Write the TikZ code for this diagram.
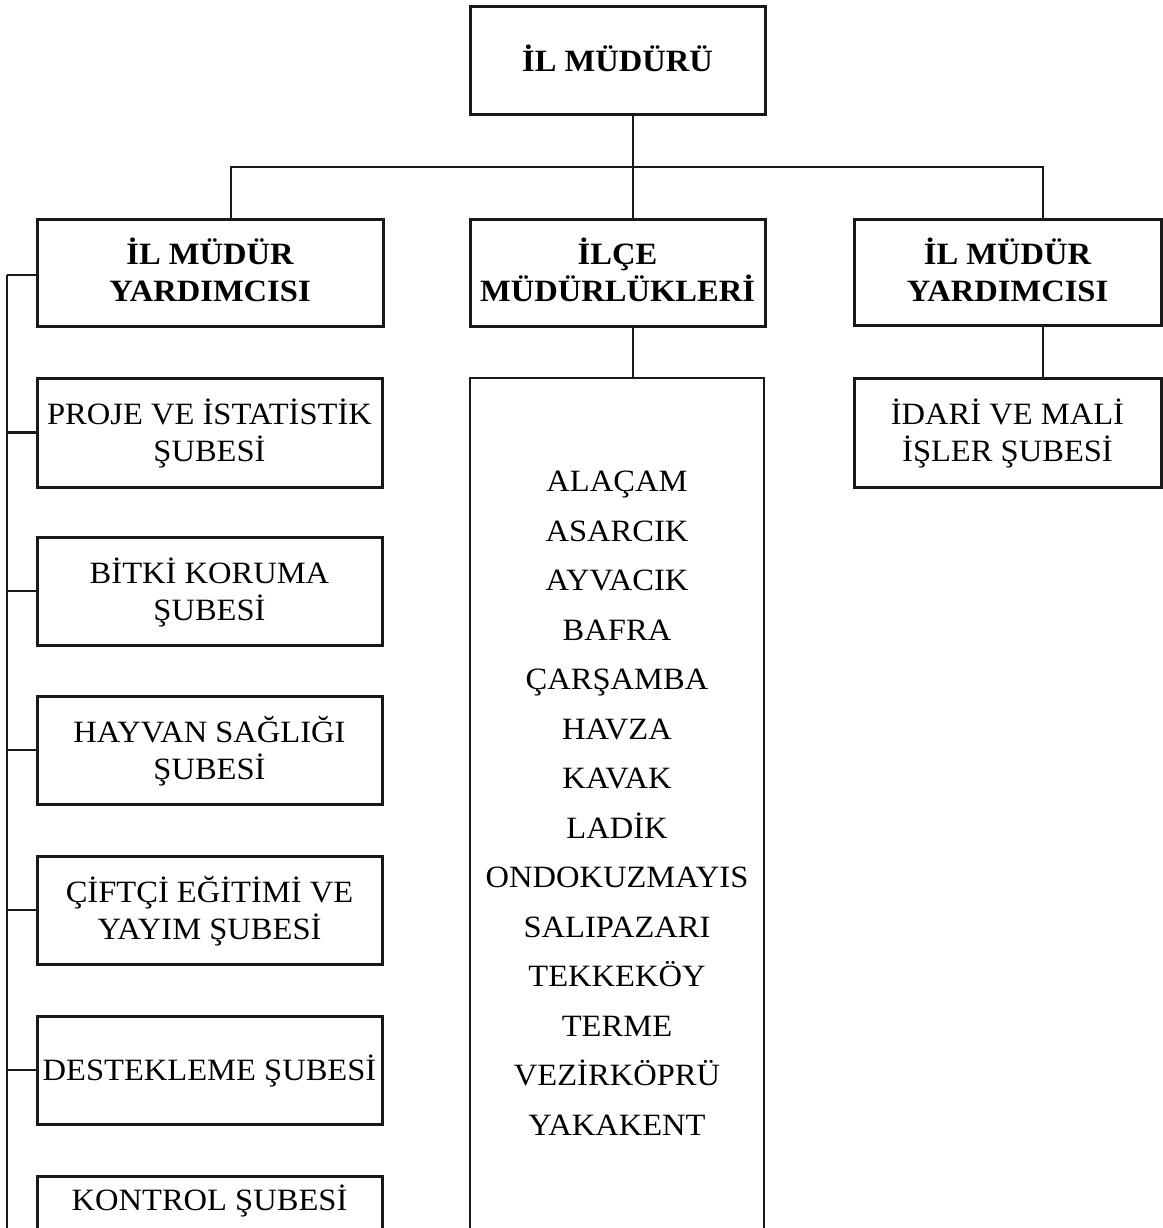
\documentclass[tikz,border=0pt]{standalone}
\usepackage{fontspec}
\setmainfont{Liberation Serif}[FakeStretch=1.05]
\begin{document}
\begin{tikzpicture}[x=1pt,y=-1pt,
  box/.style={draw=black!90,line width=3pt,align=center,inner sep=0pt,
    text height=21pt,text depth=0pt,
    font=\fontsize{31}{37}\selectfont},
  two/.style={text height=58pt},
  bbox/.style={box,font=\fontsize{31}{37}\selectfont\bfseries},
  lbox/.style={draw=black!90,line width=2.6pt},
  conn/.style={draw=black!90,line width=2.4pt},
  item/.style={inner sep=0pt,anchor=base,font=\fontsize{31}{37}\selectfont}]
\useasboundingbox (0,0) rectangle (1162,1228);
% box from (x1,y1) to (x2,y2)
\newcommand{\boxat}[6]{\node[#1,minimum width=#4-#2,minimum height=#5-#3] (#6) at ({(#2+#4)/2},{(#3+#5)/2})}
\boxat{bbox}{470}{7}{765}{115}{mud} {İL MÜDÜRÜ};
\boxat{bbox,two}{37}{219}{383}{326}{yl} {İL MÜDÜR\\YARDIMCISI};
\boxat{bbox,two}{470}{219}{765}{326}{ilce} {İLÇE\\MÜDÜRLÜKLERİ};
\boxat{bbox,two}{854}{219}{1161}{325}{yr} {İL MÜDÜR\\YARDIMCISI};
\boxat{box,two}{854}{378}{1161}{487}{idari} {İDARİ VE MALİ\\İŞLER ŞUBESİ};
\boxat{box,two}{37}{378}{382}{487}{proje} {PROJE VE İSTATİSTİK\\ŞUBESİ};
\boxat{box,two}{37}{537}{382}{645}{bitki} {BİTKİ KORUMA\\ŞUBESİ};
\boxat{box,two}{37}{696}{382}{804}{hayvan} {HAYVAN SAĞLIĞI\\ŞUBESİ};
\boxat{box,two}{37}{856}{382}{964}{ciftci} {ÇİFTÇİ EĞİTİMİ VE\\YAYIM ŞUBESİ};
\boxat{box}{37}{1016}{382}{1124}{destek} {DESTEKLEME ŞUBESİ};
\boxat{box}{37}{1176}{382}{1284}{kontrol} {};
\node[item] (kontroltxt) at (209.5,1210) {KONTROL ŞUBESİ};
\boxat{lbox}{470}{378}{764}{1300}{liste} {};
% list items
\foreach \t [count=\i from 0] in {ALAÇAM,ASARCIK,AYVACIK,BAFRA,ÇARŞAMBA,HAVZA,KAVAK,LADİK,ONDOKUZMAYIS,SALIPAZARI,TEKKEKÖY,TERME,VEZİRKÖPRÜ,YAKAKENT}
  \node[item] (it\i) at (617,{491.5+49.5*\i}) {\t};
% connectors
\coordinate (cx) at (633,0);
\coordinate (hy) at (0,167);
\coordinate (lx) at (231,0);
\coordinate (rx) at (1043,0);
\draw[conn] (mud.south -| cx) -- (ilce.north -| cx);
\draw[conn] (yl.north -| lx) |- (hy -| cx) -| (yr.north -| rx);
\draw[conn] (ilce.south -| cx) -- (liste.north -| cx);
\draw[conn] (yr.south -| rx) -- (idari.north -| rx);
\coordinate (spinetop) at (7,275);
\coordinate (spinebot) at (7,1240);
\draw[conn] (spinetop) -- (spinebot);
\draw[conn] (spinetop) -- (spinetop -| yl.west);
\foreach \n in {proje,bitki,hayvan,ciftci,destek}
  \draw[conn] (\n.west) -- (\n.west -| spinetop);
\end{tikzpicture}
\end{document}
